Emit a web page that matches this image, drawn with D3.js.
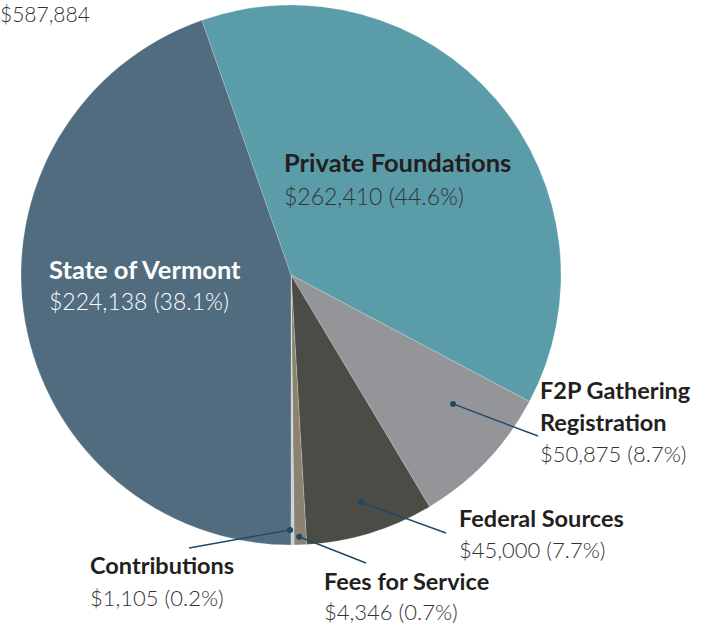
<!DOCTYPE html>
<html>
<head>
<meta charset="utf-8">
<script src="https://cdn.jsdelivr.net/npm/d3@7"></script>
<style>
  html, body { margin: 0; padding: 0; background: #fff; }
  svg { display: block; }
</style>
</head>
<body>
<svg id="chart" width="704" height="629"></svg>
<script>
// ---- data ----
const total = "$587,884";
// slices in drawing order (clockwise from the top-left seam)
const categories = ["Private Foundations", "F2P Gathering Registration", "Federal Sources", "Fees for Service", "Contributions", "State of Vermont"];
// the amounts printed in the labels
const amountLabels = ["$262,410 (44.6%)", "$50,875 (8.7%)", "$45,000 (7.7%)", "$4,346 (0.7%)", "$1,105 (0.2%)", "$224,138 (38.1%)"];
// the slice sizes as they are drawn in the picture (the two largest wedges are drawn swapped)
const sliceValues = [224138, 50875, 45000, 4346, 1105, 262410];
const colors = ["#5b9ca9", "#939598", "#4a4c45", "#8b8270", "#c9cdd2", "#506c7e"];

// ---- layout ----
const svg = d3.select("#chart");
const cx = 291, cy = 275, R = 270;
const startDeg = -19.3;
const rad = Math.PI / 180;

const pie = d3.pie().sort(null).value(d => d)
  .startAngle(startDeg * rad)
  .endAngle(startDeg * rad + 2 * Math.PI);
const arcs = pie(sliceValues);
const arc = d3.arc().innerRadius(0).outerRadius(R);

const g = svg.append("g").attr("transform", `translate(${cx},${cy})`);
g.selectAll("path").data(arcs).join("path")
  .attr("d", arc)
  .attr("fill", (d, i) => colors[i])
  .attr("stroke", "#ffffff")
  .attr("stroke-opacity", 0.35)
  .attr("stroke-width", 0.6);

const lightFont = "'Lato Light', Lato, sans-serif";
const boldFont = "Lato, sans-serif";

// total
svg.append("text")
  .attr("x", 0).attr("y", 22)
  .attr("font-family", lightFont).attr("font-weight", 300)
  .attr("font-size", 21).attr("fill", "#333")
  .text(total);

// leader lines: dot given in polar form (deg clockwise from 12 o'clock, radius fraction)
const leaderColor = "#1d4a66";
const leaders = [
  { i: 1, deg: 128.5, r: 0.767, end: [538, 436] },
  { i: 2, deg: 162.9, r: 0.88, end: [446, 533] },
  { i: 3, deg: 178.2, r: 0.97, end: [366, 563] },
  { i: 4, deg: 180.2, r: 0.944, end: [189, 548] }
];
leaders.forEach(l => {
  const a = l.deg * rad;
  const p = [cx + Math.sin(a) * R * l.r, cy - Math.cos(a) * R * l.r];
  svg.append("line")
    .attr("x1", p[0]).attr("y1", p[1]).attr("x2", l.end[0]).attr("y2", l.end[1])
    .attr("stroke", leaderColor).attr("stroke-width", 1.4);
  svg.append("circle").attr("cx", p[0]).attr("cy", p[1]).attr("r", 3).attr("fill", leaderColor);
});

// labels
const labels = [
  { i: 0, x: 284, y: 172, vy: 205, lines: ["Private Foundations"], bs: 25.5, vs: 23, color: "#231f20", vcolor: "#333333" },
  { i: 1, x: 540, y: 399, vy: 462, lines: ["F2P Gathering", "Registration"], bs: 23.5, vs: 22, color: "#231f20", vcolor: "#333333" },
  { i: 2, x: 459, y: 527, vy: 558, lines: ["Federal Sources"], bs: 23.5, vs: 22, color: "#231f20", vcolor: "#333333" },
  { i: 3, x: 324, y: 590, vy: 620, lines: ["Fees for Service"], bs: 23.5, vs: 22, color: "#231f20", vcolor: "#333333" },
  { i: 4, x: 90, y: 574, vy: 606, lines: ["Contributions"], bs: 23.5, vs: 22, color: "#231f20", vcolor: "#333333" },
  { i: 5, x: 49, y: 279, vy: 310, lines: ["State of Vermont"], bs: 25.5, vs: 23, color: "#ffffff", vcolor: "#ffffff" }
];
const lh = 32;
labels.forEach(L => {
  const t = svg.append("g");
  L.lines.forEach((s, k) => {
    t.append("text").attr("x", L.x).attr("y", L.y + k * lh)
      .attr("font-family", boldFont).attr("font-weight", 700)
      .attr("font-size", L.bs).attr("fill", L.color)
      .text(s);
  });
  t.append("text").attr("x", L.x).attr("y", L.vy)
    .attr("font-family", lightFont).attr("font-weight", 300)
    .attr("font-size", L.vs).attr("fill", L.vcolor)
    .text(amountLabels[L.i]);
});
</script>
</body>
</html>
